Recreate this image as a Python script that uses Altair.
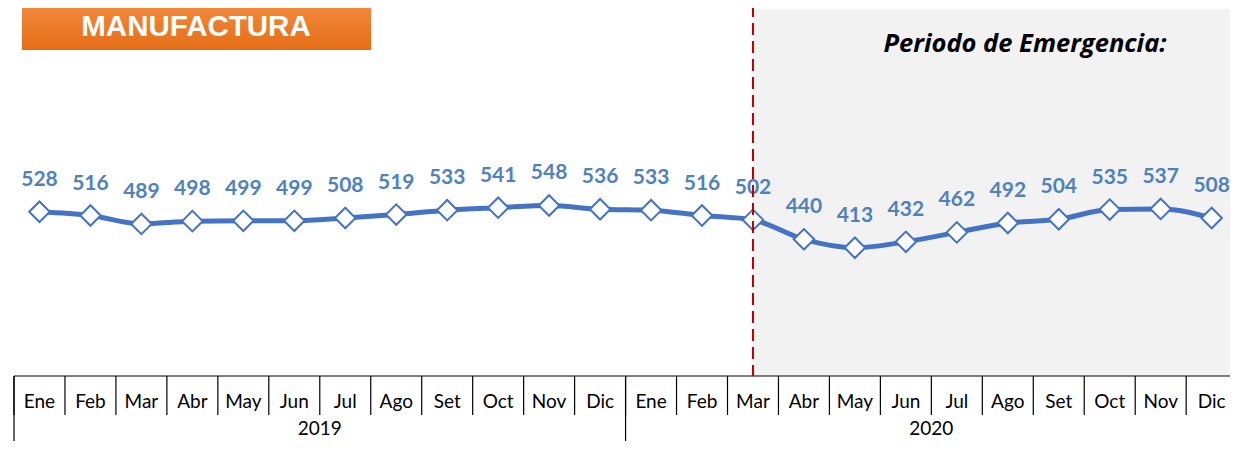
import altair as alt
import pandas as pd

# ---------------- data ----------------
months = ["Ene", "Feb", "Mar", "Abr", "May", "Jun", "Jul", "Ago", "Set", "Oct", "Nov", "Dic"]
years = ["2019", "2020"]
values_2019 = [528, 516, 489, 498, 499, 499, 508, 519, 533, 541, 548, 536]
values_2020 = [533, 516, 502, 440, 413, 432, 462, 492, 504, 535, 537, 508]
emergency_start = ("Mar", "2020")
title_text = "MANUFACTURA"
period_text = "Periodo de Emergencia:"

rows = []
for yi, (yr, vals) in enumerate(zip(years, [values_2019, values_2020])):
    for mi, (m, v) in enumerate(zip(months, vals)):
        rows.append({"idx": yi * len(months) + mi, "month": m, "year": yr, "value": v})
df = pd.DataFrame(rows)
n = len(df)

seps = pd.DataFrame({"pos": [i - 0.5 for i in range(n + 1)]})
seps["year_edge"] = [(i % len(months)) == 0 for i in range(n + 1)]
year_df = pd.DataFrame({"year": years,
                        "center": [yi * len(months) + (len(months) - 1) / 2 for yi in range(len(years))]})
emerg_df = df[(df["month"] == emergency_start[0]) & (df["year"] == emergency_start[1])]
title_df = pd.DataFrame({"t": [title_text]})
period_df = pd.DataFrame({"t": [period_text]})

# ---------------- scales ----------------
W, H = 1216, 369
xs = alt.Scale(domain=[-0.5, 23.36], nice=False, zero=False)
ys = alt.Scale(domain=[0, 1179], nice=False, zero=False)
FONT = "Lato"
LINE_C = "#4472C4"
LABEL_C = "#4F81BD"


def X(field):
    return alt.X(field, scale=xs, axis=None)


Y = alt.Y("value:Q", scale=ys, axis=None)

base = alt.Chart(df)

gray = alt.Chart(emerg_df).mark_rect(color="#F2F2F2").encode(
    x=X("idx:Q"), x2=alt.value(W), y=alt.value(1), y2=alt.value(H - 1)
)

red = alt.Chart(emerg_df).mark_rule(color="#C00000", strokeWidth=2, strokeDash=[12, 6]).encode(
    x=X("idx:Q"), y=alt.value(-3), y2=alt.value(H - 1)
)

title_box = alt.Chart(title_df).mark_rect(
    color=alt.LinearGradient(
        gradient="linear",
        stops=[alt.GradientStop(color="#F58B3F", offset=0),
               alt.GradientStop(color="#E46E17", offset=1)],
        x1=0, x2=0, y1=0, y2=1,
    )
).encode(x=alt.value(8), x2=alt.value(357), y=alt.value(-8), y2=alt.value(42))

title_txt = alt.Chart(title_df).mark_text(
    font="Liberation Sans", fontSize=29.5, fontWeight="bold", color="white",
    baseline="alphabetic", align="center"
).encode(x=alt.value(182), y=alt.value(27.5), text="t:N")

period_txt = alt.Chart(period_df).mark_text(
    font="Open Sans", fontSize=25.5, fontWeight="bold", fontStyle="italic", color="black",
    baseline="alphabetic", align="center"
).encode(x=alt.value(1011), y=alt.value(44), text="t:N")

axis_line = alt.Chart(title_df).mark_rule(color="black", strokeWidth=1.2).encode(
    x=alt.value(0), x2=alt.value(W), y=alt.value(H - 1)
)

month_seps = alt.Chart(seps).mark_rule(color="black", strokeWidth=1.2).encode(
    x=X("pos:Q"), y=alt.value(H - 1), y2=alt.value(H + 38)
)
year_seps = alt.Chart(seps[seps["year_edge"]]).mark_rule(color="black", strokeWidth=1.2).encode(
    x=X("pos:Q"), y=alt.value(H - 1), y2=alt.value(H + 70)
)

month_lbl = base.mark_text(font=FONT, fontSize=19, color="black", baseline="alphabetic").encode(
    x=X("idx:Q"), y=alt.value(H + 31), text="month:N"
)
year_lbl = alt.Chart(year_df).mark_text(font=FONT, fontSize=19, color="black", baseline="alphabetic").encode(
    x=X("center:Q"), y=alt.value(H + 58), text="year:N"
)

line = base.mark_line(color=LINE_C, strokeWidth=5, interpolate="monotone").encode(
    x=X("idx:Q"), y=Y
)
pts = base.mark_point(shape="diamond", size=420, filled=True, fill="white", stroke=LINE_C,
                      strokeWidth=2, opacity=1).encode(x=X("idx:Q"), y=Y)
vals = base.mark_text(font=FONT, fontSize=21, fontWeight="bold", color=LABEL_C,
                      baseline="middle", dy=-32).encode(x=X("idx:Q"), y=Y, text="value:Q")

chart = alt.layer(
    gray, title_box, title_txt, period_txt, axis_line, month_seps, year_seps,
    month_lbl, year_lbl, line, pts, vals, red
).properties(
    width=W, height=H,
    padding={"left": 6, "top": 0, "right": 0, "bottom": 64},
    autosize=alt.AutoSizeParams(type="none"),
    background="white",
).configure_view(stroke=None)

chart.save("out.html", embed_options={"renderer": "svg", "actions": False})
